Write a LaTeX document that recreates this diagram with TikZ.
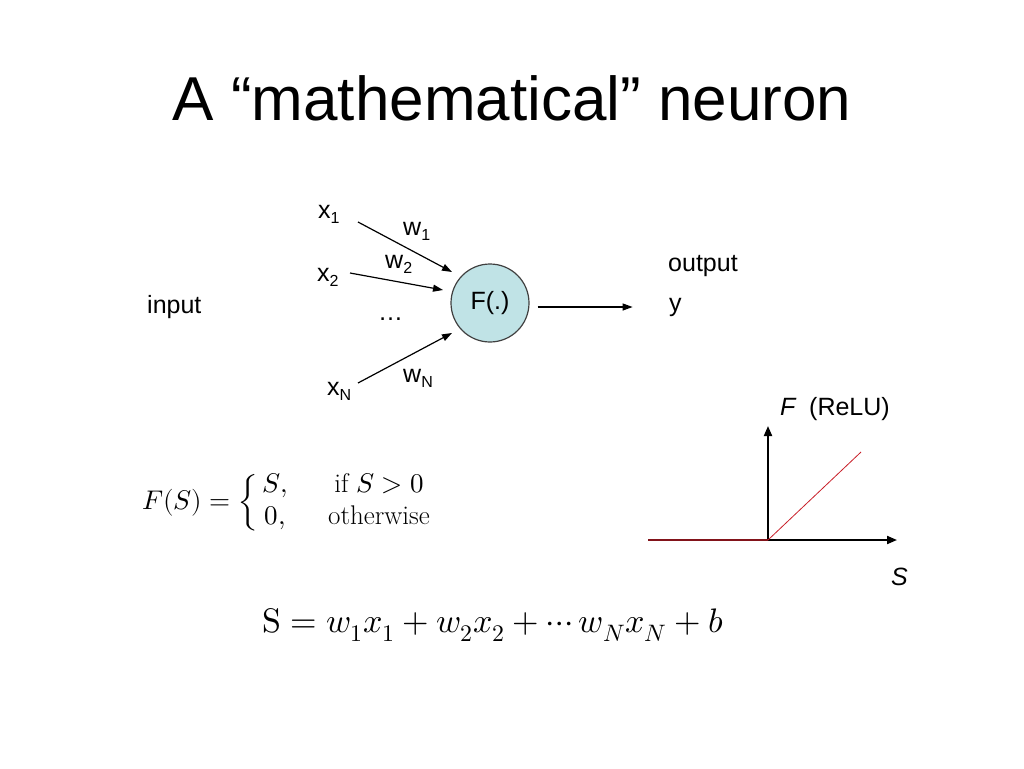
\documentclass[tikz,border=0pt]{standalone}
\usepackage{amsmath}
\usepackage{fontspec}
\usepackage{unicode-math}
\setmainfont{Liberation Sans}
\setmathfont{Latin Modern Math}
\newfontfamily\formfont{Latin Modern Roman}
\usepackage{tikz}
\usetikzlibrary{arrows.meta}

\definecolor{cellblue}{RGB}{192,227,230}
\definecolor{relured}{RGB}{200,30,40}
\newcommand\fsz[1]{\fontsize{#1}{#1}\selectfont}
\newcommand\lowsub[1]{\raisebox{-5pt}{\fsz{16}#1}}

\begin{document}
\begin{tikzpicture}[x=1pt,y=-1pt,
  lbl/.style={font=\fsz{25},inner sep=0pt,anchor=base west},
  conn/.style={-{Triangle[length=10pt,width=7pt]},line width=1.2pt},
  axis/.style={-{Triangle[length=10pt,width=8pt]},line width=2pt},
  neuron/.style={circle,draw=black!75,line width=1.2pt,fill=cellblue,
    minimum size=78pt,inner sep=0pt,font=\fsz{25}}]
\useasboundingbox (0,0) rectangle (1024,768);

       %titel
       \node[font=\fsz{62},inner sep=0pt,anchor=base] (title) at (512,120) {A “mathematical” neuron};

       %neuron
       \node[neuron] (cell) at (490,303) {F(.)};
       \node[lbl] (input) at (147,313) {input};
       \node[lbl] (x1) at (318,218) {x\lowsub{1}};
       \node[lbl] (x2) at (317,281) {x\lowsub{2}};
       \node[lbl] (xN) at (327,395) {x\lowsub{N}};
       \node[lbl] (w1) at (403,235) {w\lowsub{1}};
       \node[lbl] (w2) at (385,268) {w\lowsub{2}};
       \node[lbl] (wN) at (403,382) {w\lowsub{N}};
       \node[lbl] (dots) at (378,320) {…};
       \node[lbl] (output) at (668,271) {output};
       \node[lbl] (y) at (669,311) {y};

       \coordinate (t1) at (358,222);
       \coordinate (h1) at (452,272);
       \coordinate (t2) at (350,273);
       \coordinate (h2) at (443,290);
       \coordinate (tN) at (358,383);
       \coordinate (hN) at (452,333);
       \draw[conn] (t1) -- (h1);
       \draw[conn] (t2) -- (h2);
       \draw[conn] (tN) -- (hN);
       \draw[conn] ([shift={(8,4)}]cell.east) -- ++(95,0);

       %ReLU
       \coordinate (O) at (768,540);
       \draw[axis] (O) -- (768,426);
       \draw[axis] (648,540) -- (897,540);
       \draw[relured!65!black,line width=1.8pt] (648,540) -- (O);
       \draw[relured,line width=0.8pt] (O) -- (861,452);
       \node[lbl,font=\fsz{25}\itshape] (Flab) at (780,415) {F};
       \node[lbl] (relu) at (809,415) {(ReLU)};
       \node[lbl,font=\fsz{25}\itshape] (Slab) at (891,585) {S};

       %formulas
       \node[anchor=west,inner sep=0pt,font=\fsz{27}] (FS) at (142,503)
         {$F(S)=\left\{\begin{array}{c@{\hspace{40pt}}c} S, & \text{\formfont if} \ S>0\\[5pt] 0, & \text{\formfont otherwise}\end{array}\right.$};
       \node[anchor=west,inner sep=0pt,font=\fsz{34}] (Seq) at (262,625)
         {$\symup{S}=w_1x_1+w_2x_2+\cdots w_Nx_N+b$};
\end{tikzpicture}
\end{document}
